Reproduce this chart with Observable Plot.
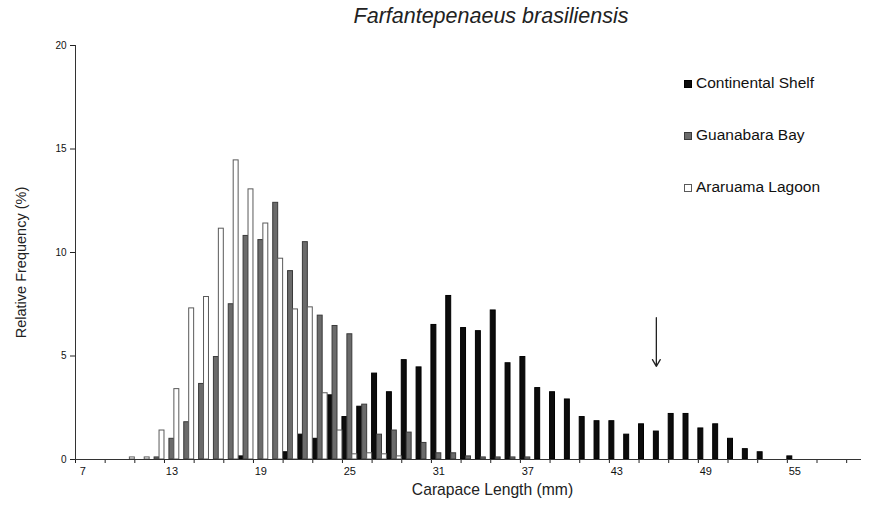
<!DOCTYPE html>
<html>
<head>
<meta charset="utf-8">
<script src="https://cdn.jsdelivr.net/npm/d3@7"></script>
<script src="https://cdn.jsdelivr.net/npm/@observablehq/plot@0.6"></script>
<style>
  html, body { margin: 0; padding: 0; background: #fff; }
  body { font-family: "Liberation Sans", Arial, sans-serif; color: #222; }
  #wrap { position: relative; width: 871px; height: 506px; overflow: hidden; }
  #title { position: absolute; top: 4px; left: 491px; transform: translateX(-50%); font-style: italic; font-size: 21.5px; line-height: 25px; white-space: nowrap; color: #222; }
  .lg { position: absolute; left: 684px; font-size: 15.5px; color: #111; white-space: nowrap; line-height: 18px; }
  .lg span.sw { display: inline-block; width: 8px; height: 8px; margin-right: 4px; vertical-align: 0px; box-sizing: border-box; }
  #chart svg { display: block; }
</style>
</head>
<body>
<div id="wrap">
  <div id="chart"></div>
  <div id="title"></div>
  <div id="legend"></div>
</div>
<script>
const lengths = [7,8,9,10,11,12,13,14,15,16,17,18,19,20,21,22,23,24,25,26,27,28,29,30,31,32,33,34,35,36,37,38,39,40,41,42,43,44,45,46,47,48,49,50,51,52,53,54,55,56,57,58,59];
// Continental Shelf (%)
const continentalShelf = [0,0,0,0,0,0,0,0,0,0,0,0.15,0,0,0.35,1.2,1.0,3.1,2.05,2.55,4.15,3.25,4.8,4.45,6.5,7.9,6.35,6.2,7.2,4.65,4.95,3.45,3.25,2.9,2.05,1.85,1.85,1.2,1.7,1.35,2.2,2.2,1.5,1.7,1.0,0.5,0.35,0,0.15,0,0,0,0];
// Guanabara Bay (%)
const guanabaraBay = [0,0,0,0,0,0.1,1.0,1.8,3.65,4.95,7.5,10.8,10.6,12.4,9.1,10.5,6.95,6.45,6.05,2.65,1.2,1.4,1.3,0.8,0.3,0.3,0.15,0.1,0.1,0.1,0.1,0,0,0,0,0,0,0,0,0,0,0,0,0,0,0,0,0,0,0,0,0,0];
// Araruama Lagoon (%)
const araruamaLagoon = [0,0,0,0.1,0.1,1.4,3.4,7.3,7.85,11.15,14.45,13.05,11.4,9.7,7.25,7.35,3.2,1.4,0.25,0.3,0.25,0.15,0,0,0,0,0,0,0,0,0,0,0,0,0,0,0,0,0,0,0,0,0,0,0,0,0,0,0,0,0,0,0];

const seriesNames = ["Continental Shelf", "Guanabara Bay", "Araruama Lagoon"];
const seriesFill = ["#0c0c0c", "#6b6b6b", "#ffffff"];
const seriesStroke = ["#000000", "#3a3a3a", "#5a5a5a"];
const yTicks = [0, 5, 10, 15, 20];
const xTickLabels = [7, 13, 19, 25, 31, 37, 43, 49, 55];
const arrowNote = [{length: 46, series: 0, from: 6.85, to: 4.5}];
const titleText = "Farfantepenaeus brasiliensis";
const xLabel = "Carapace Length (mm)";
const yLabel = "Relative Frequency (%)";

const seriesValues = [continentalShelf, guanabaraBay, araruamaLagoon];
const rows = [];
seriesValues.forEach((vals, s) => vals.forEach((v, i) => {
  if (v > 0) rows.push({length: lengths[i], s, v});
}));
const xDomain = [lengths[0] - 0.5, lengths[lengths.length - 1] + 0.5];
const tickPositions = lengths.filter((L, i) => i % 2 === 0).map(L => L - 0.5);
const nS = seriesNames.length;

const chart = Plot.plot({
  width: 871,
  height: 506,
  marginTop: 45,
  marginBottom: 47,
  marginLeft: 75,
  marginRight: 10,
  style: {fontFamily: "'Liberation Sans', Arial, sans-serif", background: "white", color: "#222"},
  x: {type: "linear", domain: xDomain},
  y: {domain: [0, 20]},
  color: {type: "identity"},
  marks: [
    Plot.rect(rows, {
      x1: d => d.length - 0.5 + d.s / nS,
      x2: d => d.length - 0.5 + (d.s + 1) / nS,
      y1: () => 0,
      y2: "v",
      fill: d => seriesFill[d.s],
      stroke: d => seriesStroke[d.s],
      strokeWidth: 1
    }),
    Plot.axisY({ticks: yTicks, tickSize: 5, tickPadding: 4, fontSize: 10, fill: "#111", label: null}),
    Plot.axisX({ticks: tickPositions, tickSize: 4, tickFormat: () => "", label: null}),
    Plot.axisX({ticks: xTickLabels, tickSize: 0, tickPadding: 8, fontSize: 11, fill: "#111", label: null}),
    Plot.ruleY([0], {stroke: "#333"}),
    Plot.ruleX([xDomain[0]], {stroke: "#333"}),
    Plot.arrow(arrowNote, {
      x1: d => d.length - 0.5 + (d.series + 0.5) / nS,
      x2: d => d.length - 0.5 + (d.series + 0.5) / nS,
      y1: "from", y2: "to",
      stroke: "#222", strokeWidth: 1.3, headLength: 9
    }),
    Plot.text([yLabel], {text: d => d, frameAnchor: "left", textAnchor: "middle", dx: -54, dy: 10, rotate: -90, fontSize: 14.5, fill: "#222"}),
    Plot.text([xLabel], {text: d => d, frameAnchor: "bottom", textAnchor: "middle", dx: 24, dy: 35, fontSize: 15.7, fill: "#222"})
  ]
});
document.getElementById("chart").appendChild(chart);
document.getElementById("title").textContent = titleText;

const legendTops = [74, 126, 178];
const legend = document.getElementById("legend");
seriesNames.forEach((name, s) => {
  const div = document.createElement("div");
  div.className = "lg";
  div.style.top = legendTops[s] + "px";
  const sw = document.createElement("span");
  sw.className = "sw";
  sw.style.background = seriesFill[s];
  sw.style.border = "1px solid " + seriesStroke[s];
  div.appendChild(sw);
  div.appendChild(document.createTextNode(name));
  legend.appendChild(div);
});
</script>
</body>
</html>
